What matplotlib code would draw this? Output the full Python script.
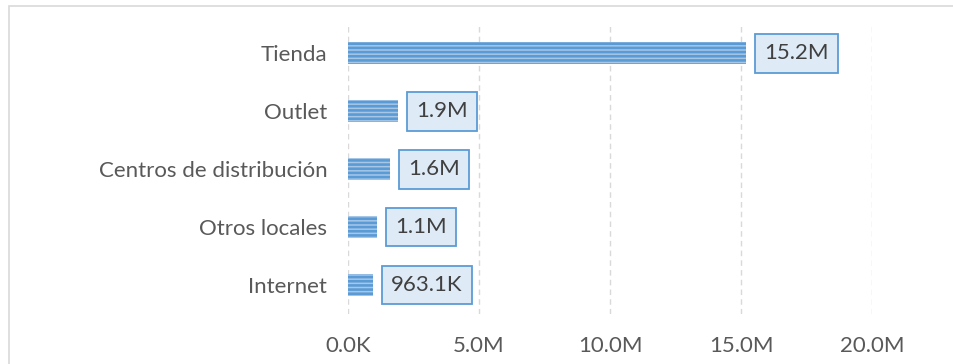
import matplotlib.pyplot as plt
from matplotlib.patches import Rectangle
from matplotlib.ticker import FuncFormatter

categories = ["Tienda", "Outlet", "Centros de distribución", "Otros locales", "Internet"]
values = [15.2e6, 1.9e6, 1.6e6, 1.1e6, 963.1e3]
labels = ["15.2M", "1.9M", "1.6M", "1.1M", "963.1K"]
xticks = [0, 5e6, 10e6, 15e6, 20e6]

plt.rcParams['font.family'] = ['Lato', 'DejaVu Sans']
plt.rcParams['hatch.linewidth'] = 1.9

fig = plt.figure(figsize=(9.54, 3.64), dpi=100)
ax = fig.add_axes([348 / 954, 1 - 314 / 364, (872 - 348) / 954, (314 - 24.5) / 364])

# light frame around the chart
fig.patches.append(Rectangle((9 / 954, -0.1), 1.2, 1 - 6 / 364 + 0.1, transform=fig.transFigure,
                             fill=False, edgecolor='#D9D9D9', linewidth=1.2))

y = list(range(len(categories)))[::-1]
ax.barh(y, values, height=0.38, color='#A7C7E7', edgecolor='#5B9BD5', linewidth=0, hatch='----')

for yi, v, lab in zip(y, values, labels):
    ax.annotate(lab, (v, yi), xytext=(13, 0), textcoords='offset points', ha='left', va='center',
                fontsize=16, color='#404040',
                bbox=dict(boxstyle='square,pad=0.42', facecolor='#DEEBF7', edgecolor='#5B9BD5', linewidth=1.3))

ax.set_xlim(0, 20e6)
ax.set_ylim(-0.5, len(categories) - 0.5)
ax.set_yticks(y)
ax.set_yticklabels(categories)
ax.set_xticks(xticks)
ax.xaxis.set_major_formatter(FuncFormatter(lambda v, p: "0.0K" if v == 0 else f"{v / 1e6:.1f}M"))
ax.tick_params(axis='both', length=0, labelsize=16, labelcolor='#595959')
ax.tick_params(axis='x', pad=16)
ax.tick_params(axis='y', pad=15)
ax.grid(axis='x', color='#D9D9D9', linestyle=(0, (4, 3)), linewidth=1)
ax.set_axisbelow(True)
for s in ax.spines.values():
    s.set_visible(False)

fig.savefig('out.png', dpi=100)
